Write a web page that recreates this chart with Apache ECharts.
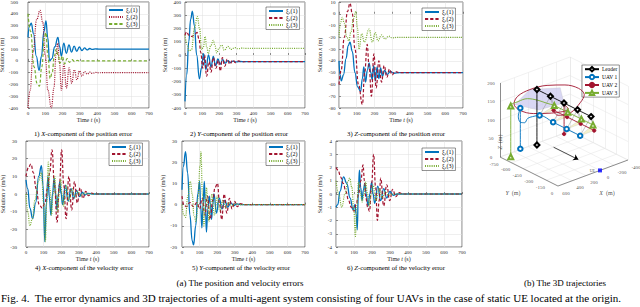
<!DOCTYPE html>
<html><head><meta charset="utf-8">
<script src="https://cdn.jsdelivr.net/npm/echarts/dist/echarts.min.js"></script>
<style>html,body{margin:0;padding:0;background:#fff}#c{width:640px;height:307px}</style>
</head><body><div id="c"></div>
<script>
const FONT = 'Liberation Serif';
const C_BLUE = '#0072BD', C_RED = '#A2142F', C_GREEN = '#77AC30';

// ---------- data: time series [t, value] ----------
const timeTicks = [0, 100, 200, 300, 400, 500, 600, 700];

const posX1 = [[0,200],[8,295],[19,320],[32,230],[48,40],[64,-80],[78,40],[92,250],[104,340],[114,200],[125,0],[138,20],[155,120],[173,200],[183,120],[193,40],[207,150],[222,65],[237,135],[252,75],[267,125],[282,82],[297,118],[312,88],[327,110],[342,93],[357,105],[372,97],[390,102],[410,100],[700,100]];
const posX2 = [[0,-400],[12,-250],[30,80],[50,350],[70,430],[85,330],[100,50],[115,-250],[135,-400],[150,-230],[162,50],[172,150],[182,-20],[193,-250],[208,-30],[222,-230],[238,-60],[253,-190],[268,-75],[283,-160],[298,-85],[313,-130],[328,-90],[343,-113],[358,-95],[373,-107],[390,-98],[410,-101],[430,-100],[700,-100]];
const posX3 = [[0,400],[15,250],[35,-50],[52,-190],[66,-215],[80,-50],[95,200],[103,240],[115,50],[128,-150],[140,-100],[152,40],[164,100],[175,40],[185,-20],[198,40],[212,-25],[226,20],[240,-12],[255,10],[270,-6],[285,4],[300,-2],[320,0],[700,0]];

const posY1 = [[0,-350],[10,-150],[22,100],[33,270],[43,330],[55,220],[68,0],[84,-180],[96,-100],[108,10],[122,-110],[137,0],[152,-90],[165,-10],[178,-80],[192,-30],[205,-70],[220,-35],[235,-62],[250,-42],[265,-56],[280,-46],[300,-52],[320,-49],[350,-50],[700,-50]];
const posY2 = [[0,150],[10,175],[22,150],[40,140],[55,150],[70,170],[82,120],[92,20],[103,-100],[114,0],[126,-160],[140,-50],[152,-130],[165,-20],[180,-100],[195,-40],[206,-120],[218,-20],[232,-85],[246,-30],[262,-70],[278,-38],[295,-58],[312,-45],[330,-52],[360,-50],[700,-50]];
const posY3 = [[0,150],[12,80],[25,30],[38,40],[55,200],[72,290],[85,200],[97,40],[107,60],[117,140],[127,60],[136,10],[150,70],[165,110],[175,70],[185,15],[198,50],[214,75],[230,35],[250,65],[270,42],[290,56],[310,47],[330,52],[360,50],[700,50]];

const posZ1 = [[0,-40],[6,-52],[13,-57],[25,-52],[40,-38],[52,-27],[62,-24],[75,-32],[90,-50],[105,-62],[122,-66],[132,-55],[140,-45],[150,-58],[160,-48],[170,-42],[180,-50],[187,-56],[196,-44],[205,-57],[215,-45],[225,-55],[235,-46],[245,-53],[258,-48],[272,-51.5],[290,-49],[310,-50.5],[340,-50],[700,-50]];
const posZ2 = [[0,-60],[12,-48],[30,-20],[48,2],[62,9],[75,0],[90,-30],[110,-60],[132,-77],[145,-50],[159,-26],[170,-45],[183,-70],[197,-34],[210,-63],[225,-40],[240,-58],[255,-44],[270,-54],[285,-47],[300,-52],[315,-49],[340,-50],[700,-50]];
const posZ3 = [[0,-20],[8,-8],[18,-3],[30,-8],[45,-20],[55,-23],[68,-15],[82,-4],[95,2],[104,-12],[113,-30],[128,-17],[143,-24],[170,-13],[188,-24],[205,-16],[220,-23],[240,-18],[260,-21.5],[280,-19],[300,-20.5],[330,-20],[700,-20]];

const velX1 = [[0,8],[10,3],[22,-8],[38,-14],[55,-5],[72,10],[88,16],[97,5],[107,-27],[116,-5],[125,10],[133,-2],[142,-12],[151,0],[160,9],[168,0],[176,-9],[184,0],[192,7],[200,0],[208,-6],[224,5],[240,-4],[256,3],[272,-2.5],[288,2],[304,-1.5],[320,1],[336,-0.6],[352,0.4],[380,0],[700,0]];
const velX2 = [[0,10],[14,15],[28,17],[42,12],[58,3],[75,-6],[92,-8],[108,-5],[122,3],[135,12],[148,25],[162,5],[177,-16],[190,5],[203,25],[215,5],[228,-14],[244,10],[260,-9],[276,7],[292,-5],[308,3.5],[324,-2.5],[340,1.5],[356,-1],[372,0.5],[395,0],[700,0]];
const velX3 = [[0,0],[10,-10],[22,-18],[36,-14],[52,-3],[70,7],[88,12],[100,-5],[110,-27],[118,-5],[127,18],[136,3],[145,-12],[154,0],[163,10],[172,0],[180,-10],[188,0],[197,8],[205,0],[213,-7],[229,5],[245,-4],[262,3],[278,-2],[295,1.5],[312,-1],[330,0.5],[360,0],[700,0]];

const velY1 = [[0,7],[8,18],[20,25],[32,15],[45,-5],[58,-17],[66,-19],[78,-10],[90,5],[100,11],[106,0],[113,-11],[120,0],[127,11],[133,0],[139,-13],[147,-2],[155,4],[162,0],[168,-7],[175,0],[182,5],[196,-4],[212,3],[228,-2],[244,2],[260,-1.2],[278,0.8],[295,-0.5],[312,0.3],[340,0],[700,0]];
const velY2 = [[0,4],[10,0],[25,-1],[45,1],[65,-1],[85,1],[100,-2],[115,3],[130,-5],[145,4],[160,-7],[175,2],[188,8],[202,10],[214,0],[226,-7],[240,5],[255,-4],[270,3],[285,-2],[300,1.5],[315,-1],[330,0.5],[360,0],[700,0]];
const velY3 = [[0,0],[10,-5],[20,-6],[33,4],[47,11],[58,5],[68,-5],[80,-8],[92,3],[102,18],[108,25],[116,5],[124,-10],[132,0],[140,8],[147,0],[153,-8],[162,0],[170,5],[185,-5],[200,4],[215,-3],[232,2],[248,-1.5],[265,1],[282,-0.6],[300,0.3],[330,0],[700,0]];

const velZ1 = [[0,-1],[10,-0.8],[22,0.2],[42,1.3],[60,0.8],[78,-0.3],[95,-1.2],[105,-0.8],[112,-1.5],[118,-2.7],[124,0],[130,1.8],[137,0.5],[145,-0.5],[152,0.3],[160,0.8],[168,0],[178,-0.9],[188,0],[198,0.9],[206,0],[215,-0.7],[232,0.6],[248,-0.5],[265,0.4],[282,-0.3],[300,0.2],[318,-0.1],[340,0],[700,0]];
const velZ2 = [[0,2],[12,1.8],[25,1.3],[40,0.8],[55,0.2],[70,-0.5],[85,-1],[100,-1.3],[112,-0.8],[125,0],[138,1],[150,2.2],[158,1],[166,-0.3],[176,-1],[186,-1.3],[198,0.8],[209,3],[220,0.5],[230,-2],[240,-0.5],[248,1.2],[265,-0.9],[282,0.7],[298,-0.5],[315,0.35],[332,-0.2],[350,0.1],[370,0],[700,0]];
const velZ3 = [[0,1],[15,0],[32,-1],[50,0],[65,0.9],[76,1.2],[88,0.5],[98,-1],[108,-3.2],[115,-1],[125,0.9],[135,0.2],[145,-0.6],[155,0],[165,0.9],[175,0],[185,-0.9],[195,0],[205,0.7],[222,-0.5],[240,0.4],[258,-0.3],[275,0.2],[292,-0.1],[320,0],[700,0]];

// y-axis ranges [min, max, interval]
const posXRange = [-400, 500, 100];
const posYRange = [-400, 400, 100];
const posZRange = [-80, 10, 10];
const velXRange = [-30, 30, 10];
const velYRange = [-20, 30, 10];
const velZRange = [-4, 4, 1];

// ---------- data: 3D trajectories [X, Y, Z] (m) ----------
const ticks3X = [-400, -200, 0, 200, 400, 600];
const ticks3Y = [-750, -600, -450, -300, -150, 0];
const ticks3Z = [0, 50, 100, 150, 200];
const leaderPath = [[100,-725,0],[100,-725,150],[100,-550,150],[100,-375,150],[100,-200,150],[100,-25,150]];
const leaderMarks = [0,1,2,3,4,5];
const uav1Path = [[420,-650,20],[420,-650,130],[460,-640,112],[470,-605,100],[430,-585,98],[370,-600,104],[290,-610,102],[200,-600,100],[200,-425,100],[200,-250,100],[200,-75,100]];
const uav1Marks = [0,1,7,8,9,10];
const uav2Path = [[60,-410,60],[60,-410,140],[130,-290,145],[340,-323,145],[494,-415,145],[550,-540,145],[494,-665,145],[340,-757,145],[130,-790,145],[-80,-757,145],[-234,-665,145],[-290,-540,145],[-234,-415,145],[-80,-323,145],[60,-330,125],[140,-420,115],[80,-520,108],[0,-600,100],[0,-425,100],[0,-250,100],[0,-75,100]];
const uav2Marks = [0,17,18,19,20];
const uav3Path = [[507,-695,0],[507,-695,137],[440,-660,148],[340,-630,152],[240,-590,145],[160,-545,136],[100,-500,130],[100,-325,130],[100,-150,130],[100,0,130]];
const uav3Marks = [0,1,6,7,8,9];
const lavenderPatch = [[500,-650,145],[130,-790,145],[-150,-650,145],[100,-375,150],[300,-520,130]];
const arrowPath = [[0,-600,0],[0,-280,0]];
const uePoint = [0,0,0];

// ---------- projection of 3D world to the hidden 2D axes ----------
function proj(p){ const a = p[1] + 750, b = 600 - p[0]; return [0.0773*a + 0.07*b, 0.026*b - 0.0387*a + 0.37*p[2]]; }

const plots = [
  {g:[28,2,121,106], y:posXRange, q:'x', u:'m', lm:10, ng:14.5, data:[posX1,posX2,posX3], st:['solid','dot','dash'], lg:[106,6], cap:['1) ','X','-component of the position error'], cp:[83,133]},
  {g:[185,2,120,106], y:posYRange, q:'x', u:'m', lm:4, ng:17, data:[posY1,posY2,posY3], st:['solid','dash','dot'], lg:[266,7], cap:['2) ','Y','-component of the position error'], cp:[239,133]},
  {g:[339,2,124,106], y:posZRange, q:'x', u:'m', lm:3.5, ng:16, data:[posZ1,posZ2,posZ3], st:['solid','dash','dot'], lg:[422,8], cap:['3) ','Z','-component of the position error'], cp:[396,133]},
  {g:[26,141,123,106], y:velXRange, q:'v', u:'m/s', lm:9, ng:15.5, data:[velX1,velX2,velX3], st:['solid','dash','dot'], lg:[109,143], cap:['4) ','X','-component of the velocity error'], cp:[84,267]},
  {g:[182,141,123,106], y:velYRange, q:'v', u:'m/s', lm:5, ng:14.5, data:[velY1,velY2,velY3], st:['solid','dash','dot'], lg:[266,143], cap:['5) ','Y','-component of the velocity error'], cp:[241,267]},
  {g:[336,141,126,106], y:velZRange, q:'v', u:'m/s', lm:4, ng:12.7, data:[velZ1,velZ2,velZ3], st:['solid','dash','dot'], lg:[422,148], cap:['6) ','Z','-component of the velocity error'], cp:[396,267]}
];
const colors = [C_BLUE, C_RED, C_GREEN];
const dashMap = {solid:'solid', dash:[3.2,2], dot:[1,1.2]};

const grids = [], xAxes = [], yAxes = [], series = [], legends = [], graphics = [];
const legendText = {};
const nameRich = {n:{fontFamily:FONT,fontSize:6,color:'#262626'}, i:{fontFamily:FONT,fontSize:6,fontStyle:'italic',color:'#262626'}};

plots.forEach((p,i)=>{
  grids.push({left:p.g[0], top:p.g[1], width:p.g[2], height:p.g[3], show:true, borderColor:'#262626', borderWidth:0.6, containLabel:false, outerBoundsMode:'none'});
  xAxes.push({type:'value', gridIndex:i, min:timeTicks[0], max:timeTicks[timeTicks.length-1], interval:timeTicks[1]-timeTicks[0],
    name:'{n|Time }{i|t}{n| (s)}', nameLocation:'middle', nameGap:8.5, nameTextStyle:{rich:nameRich},
    axisLine:{show:false}, axisTick:{show:true, inside:true, length:2, lineStyle:{color:'#262626', width:0.5}},
    axisLabel:{fontSize:5, fontFamily:FONT, color:'#262626', margin:2.5, hideOverlap:false},
    splitLine:{show:true, lineStyle:{color:'#dedede', width:0.5}}});
  yAxes.push({type:'value', gridIndex:i, min:p.y[0], max:p.y[1], interval:p.y[2],
    name:'{n|Solution }{i|'+p.q+'}{n| ('+p.u+')}', nameLocation:'middle', nameGap:p.ng, nameRotate:90, nameTextStyle:{rich:nameRich},
    axisLine:{show:false}, axisTick:{show:true, inside:true, length:2, lineStyle:{color:'#262626', width:0.5}},
    axisLabel:{fontSize:5, fontFamily:FONT, color:'#262626', margin:p.lm, hideOverlap:false},
    splitLine:{show:true, lineStyle:{color:'#dedede', width:0.5}}});
  const names = [];
  p.data.forEach((d,k)=>{
    const nm = 'p'+i+'s'+(k+1);
    names.push(nm);
    legendText[nm] = '{x|ξ}{s|e}{x|('+(k+1)+')}';
    series.push({type:'line', name:nm, xAxisIndex:i, yAxisIndex:i, data:d, symbol:'none', smooth:0.45, smoothMonotone:'x',
      lineStyle:{color:colors[k], width:k===0?1.3:1.2, type:dashMap[p.st[k]]}, itemStyle:{color:colors[k]}, z:2+k, silent:true});
  });
  legends.push({show:true, orient:'vertical', left:p.lg[0], top:p.lg[1], data:names, padding:[1,2,1,2], itemGap:0.5,
    itemWidth:14, itemHeight:5, backgroundColor:'#fff', borderColor:'#262626', borderWidth:0.5, borderRadius:0, selectedMode:false,
    itemStyle:{opacity:0},
    formatter:(n)=>legendText[n],
    textStyle:{fontFamily:FONT, fontSize:6, color:'#000', padding:[0,0,0,-2],
      rich:{x:{fontFamily:FONT,fontSize:6,color:'#000'}, s:{fontFamily:FONT,fontSize:4,color:'#000',verticalAlign:'bottom',padding:[3,0,0,0]}}}});
  graphics.push({type:'text', x:p.cp[0], y:p.cp[1], silent:true,
    style:{text:p.cap[0]+'{i|'+p.cap[1]+'}'+p.cap[2], fontFamily:FONT, fontSize:6.7, fill:'#000',
      align:'center', verticalAlign:'middle', textAlign:'center', textVerticalAlign:'middle',
      rich:{i:{fontFamily:FONT, fontSize:6.7, fontStyle:'italic', fill:'#000', color:'#000'}}}});
});

// ---------- 3D panel on a hidden cartesian grid ----------
const G3 = plots.length;
grids.push({left:468, top:52, width:172, height:150, show:false, outerBoundsMode:'none'});
xAxes.push({type:'value', gridIndex:G3, min:-32, max:140, show:false});
yAxes.push({type:'value', gridIndex:G3, min:-45, max:105, show:false});

const gridSegs = [];
ticks3X.forEach(x=>{ gridSegs.push([[x,-750,0],[x,0,0]]); gridSegs.push([[x,-750,0],[x,-750,200]]); });
ticks3Y.forEach(y=>{ gridSegs.push([[-400,y,0],[600,y,0]]); gridSegs.push([[-400,y,0],[-400,y,200]]); });
ticks3Z.forEach(z=>{ gridSegs.push([[-400,-750,z],[600,-750,z]]); gridSegs.push([[-400,-750,z],[-400,0,z]]); });
series.push({type:'lines', coordinateSystem:'cartesian2d', xAxisIndex:G3, yAxisIndex:G3, silent:true, z:1,
  data:gridSegs.map(s=>({coords:s.map(proj)})), lineStyle:{color:'#e3e3e3', width:0.5, opacity:1}});
const axisSegs = [[[600,-750,0],[600,-750,200]],[[600,-750,0],[600,0,0]],[[600,0,0],[-400,0,0]]];
series.push({type:'lines', coordinateSystem:'cartesian2d', xAxisIndex:G3, yAxisIndex:G3, silent:true, z:1,
  data:axisSegs.map(s=>({coords:s.map(proj)})), lineStyle:{color:'#262626', width:0.5, opacity:1}});

// tick labels
const tickLbl = (pts, txts, off) => ({type:'scatter', xAxisIndex:G3, yAxisIndex:G3, symbolSize:0, silent:true, z:5,
  data:pts.map((q,j)=>({value:proj(q), name:txts[j]})),
  label:{show:true, position:'inside', offset:off, formatter:'{b}', fontSize:5, fontFamily:FONT, color:'#262626'}});
series.push(tickLbl(ticks3Z.map(z=>[600,-750,z]), ticks3Z.map(String), [-9,0]));
series.push(tickLbl(ticks3Y.map(y=>[600,y,0]), ticks3Y.map(String), [-6,7]));
series.push(tickLbl(ticks3X.map(x=>[x,0,0]), ticks3X.map(String), [8,7]));
const axRich = {n:{fontFamily:FONT,fontSize:6,color:'#262626'}, i:{fontFamily:FONT,fontSize:6,fontStyle:'italic',color:'#262626'}};
series.push({type:'scatter', xAxisIndex:G3, yAxisIndex:G3, symbolSize:0, silent:true, z:5,
  data:[{value:proj([600,-375,0]), label:{offset:[-16,21], formatter:'{i|Y}{n|  (m)}'}},
        {value:proj([100,0,0]), label:{offset:[14,20], formatter:'{i|X}{n|  (m)}'}},
        {value:proj([600,-750,100]), label:{offset:[-22,0], rotate:90, formatter:'{i|Z}{n|  (m)}'}}],
  label:{show:true, position:'inside', rich:axRich}});

// shaded patches (lavender region + formation triangles)
const forms = [leaderPath.slice(-4), uav1Path.slice(-4), uav2Path.slice(-4), uav3Path.slice(-4)];
const polys = [{pts:lavenderPatch, fill:'#c9c6ee', op:0.7}];
for (let k=0;k<4;k++) polys.push({pts:[forms[1][k], forms[2][k], forms[3][k]], fill:'#f3efc0', op:0.8});
series.push({type:'custom', xAxisIndex:G3, yAxisIndex:G3, silent:true, z:2, data:polys.map((_,j)=>[j]),
  renderItem:(params, api)=>{ const pg = polys[api.value(0)];
    return {type:'polygon', shape:{points:pg.pts.map(q=>api.coord(proj(q)))}, style:{fill:pg.fill, opacity:pg.op, stroke:'#aaa', lineWidth:0.3}}; }});
// leader-to-follower links
const links = [];
for (let k=0;k<4;k++) for (let f=1; f<4; f++) links.push([forms[0][k], forms[f][k]]);
series.push({type:'lines', coordinateSystem:'cartesian2d', xAxisIndex:G3, yAxisIndex:G3, silent:true, z:3,
  data:links.map(s=>({coords:s.map(proj)})), lineStyle:{color:'#8c8c8c', width:0.5, opacity:1}});

// trajectories
const traj = (name, path, marks, color, sym, size) => ({type:'line', name, xAxisIndex:G3, yAxisIndex:G3, z:4, silent:true,
  symbol:sym, symbolSize:size, showSymbol:true, showAllSymbol:true, smooth:0.35,
  lineStyle:{color, width:0.9}, itemStyle:{color: color, borderColor:color, borderWidth:0.8},
  data:path.map((q,j)=> marks.indexOf(j) >= 0 ? {value:proj(q)} : {value:proj(q), symbol:'none'})});
series.push(traj('UAV 2', uav2Path, uav2Marks, C_RED, 'circle', 3.5));
series.push(traj('UAV 1', uav1Path, uav1Marks, C_BLUE, 'emptyCircle', 4.5));
series.push(traj('UAV 3', uav3Path, uav3Marks, C_GREEN, 'emptyTriangle', 5));
series.push(traj('Leader', leaderPath, leaderMarks, '#000', 'emptyDiamond', 5));

// arrow and UE
series.push({type:'lines', coordinateSystem:'cartesian2d', xAxisIndex:G3, yAxisIndex:G3, silent:true, z:4,
  symbol:['none','arrow'], symbolSize:5, data:[{coords:arrowPath.map(proj)}], lineStyle:{color:'#000', width:0.7, opacity:1}});
series.push({type:'scatter', xAxisIndex:G3, yAxisIndex:G3, symbol:'rect', symbolSize:4, silent:true, z:5,
  itemStyle:{color:'#0000ff'}, data:[{value:proj(uePoint)}],
  label:{show:true, position:'left', distance:3, formatter:'UE', fontSize:4, fontFamily:FONT, color:'#262626'}});

legends.push({show:true, orient:'vertical', left:582, top:65, data:['Leader','UAV 1','UAV 2','UAV 3'], padding:[1,2,1,2], itemGap:1.5,
  itemWidth:14, itemHeight:5.5, backgroundColor:'#fff', borderColor:'#262626', borderWidth:0.5, borderRadius:0, selectedMode:false,
  textStyle:{fontFamily:FONT, fontSize:5.5, color:'#000', padding:[0,0,0,-2]}});

// figure-level text
const txt = (x, y, s, size, align) => ({type:'text', x, y, silent:true,
  style:{text:s, fontFamily:FONT, fontSize:size, fill:'#000', align:align, verticalAlign:'middle', textAlign:align, textVerticalAlign:'middle'}});
graphics.push(txt(240, 283, '(a) The position and velocity errors', 9, 'center'));
graphics.push(txt(565, 283, '(b) The 3D trajectories', 9, 'center'));
graphics.push(txt(1, 298, 'Fig. 4.  The error dynamics and 3D trajectories of a multi-agent system consisting of four UAVs in the case of static UE located at the origin.', 11, 'left'));

const chart = echarts.init(document.getElementById('c'), null, {renderer:'svg'});
chart.setOption({animation:false, backgroundColor:'#fff', grid:grids, xAxis:xAxes, yAxis:yAxes, legend:legends, series:series, graphic:graphics});
</script></body></html>
